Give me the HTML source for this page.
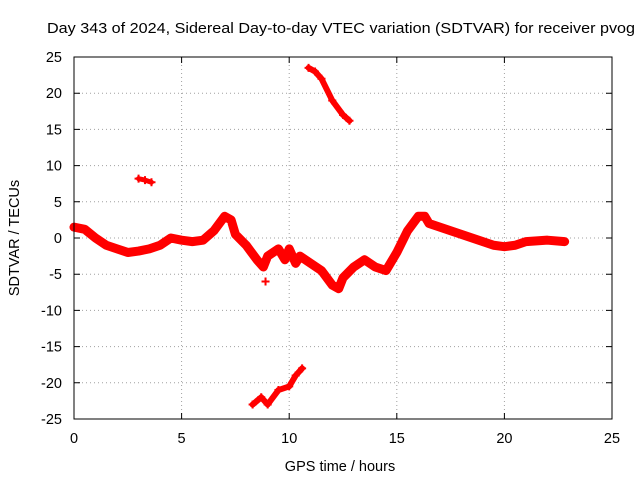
<!DOCTYPE html>
<html><head><meta charset="utf-8"><style>
body{margin:0;background:#fff}
svg{display:block;font-family:"Liberation Sans",sans-serif}
</style></head><body>
<svg id="chart" width="640" height="480" viewBox="0 0 640 480">
<text x="47" y="33" font-size="14.5" textLength="588" lengthAdjust="spacingAndGlyphs">Day 343 of 2024, Sidereal Day-to-day VTEC variation (SDTVAR) for receiver pvog</text>
<g id="grid"></g>
<g id="marks"></g>
<rect x="74" y="57" width="538" height="362" fill="none" stroke="#000" stroke-width="1"/>
<g id="axes"></g>
<text x="340" y="471" font-size="14.5" text-anchor="middle">GPS time / hours</text>
<text transform="translate(19,238) rotate(-90)" font-size="14.5" text-anchor="middle">SDTVAR / TECUs</text>
</svg>
<script>
const xTicks=[0,5,10,15,20,25];
const yTicks=[25,20,15,10,5,0,-5,-10,-15,-20,-25];
const mainT=[0,0.5,1,1.5,2,2.5,3,3.5,4,4.5,5,5.5,6,6.5,7,7.3,7.5,8,8.5,8.8,9,9.5,9.8,10,10.3,10.5,11,11.5,12,12.3,12.5,13,13.5,14,14.5,15,15.5,16,16.3,16.5,17,18,19,19.5,20,20.5,21,22,22.8];
const mainV=[1.5,1.2,0,-1,-1.5,-2,-1.8,-1.5,-1,0,-0.3,-0.5,-0.3,1,3,2.5,0.5,-1,-3,-4,-2.5,-1.5,-3,-1.5,-3.5,-2.5,-3.5,-4.5,-6.5,-7,-5.5,-4,-3,-4,-4.5,-2,1,3,3,2,1.5,0.5,-0.5,-1,-1.2,-1,-0.5,-0.3,-0.5];
const seg2T=[3.0,3.3,3.6];
const seg2V=[8.2,8.0,7.7];
const seg3T=[10.9,11.2,11.5,12,12.5,12.8];
const seg3V=[23.5,23,22,19,17,16.2];
const seg4T=[8.3,8.7,9,9.5,10,10.3,10.6];
const seg4V=[-23,-22,-23,-21,-20.5,-19,-18];
const outT=[8.9];
const outV=[-6];
const X0=74,X1=612,Y0=419,Y1=57;
const sx=v=>X0+(v-0)/(25-0)*(X1-X0);
const sy=v=>Y0-(v+25)/50*(Y0-Y1);
const NS='http://www.w3.org/2000/svg';
const grid=document.getElementById('grid'),axes=document.getElementById('axes'),marks=document.getElementById('marks');
function mk(tag,attrs,parent){const e=document.createElementNS(NS,tag);for(const k in attrs)e.setAttribute(k,attrs[k]);parent.appendChild(e);return e;}
xTicks.forEach(t=>{
  const x=sx(t);
  const g=mk('line',{x1:x,x2:x,y1:Y1,y2:Y0,stroke:'#a0a0a0','stroke-dasharray':'1,3'},grid);
  
  
  const tk=mk('path',{d:`M${x},${Y0}v-6M${x},${Y1}v6`,stroke:'#000'},axes);
  
  
  const l=mk('text',{x:x,y:443,'font-size':'14.5','text-anchor':'middle'},axes);
  l.textContent=t;
  
  
});
yTicks.forEach(t=>{
  const y=sy(t);
  const g=mk('line',{x1:X0,x2:X1,y1:y,y2:y,stroke:'#a0a0a0','stroke-dasharray':'1,3'},grid);
  
  
  const tk=mk('path',{d:`M${X0},${y}h6M${X1},${y}h-6`,stroke:'#000'},axes);
  
  
  const l=mk('text',{x:62,y:y+5,'font-size':'14.5','text-anchor':'end'},axes);
  l.textContent=t;
  
  
});
function series(T,V,w,name){
  const pts=T.map((t,i)=>sx(t)+','+sy(V[i])).join(' ');
  const p=mk('polyline',{points:pts,fill:'none',stroke:'#f00','stroke-width':w,'stroke-linejoin':'round','stroke-linecap':'round'},marks);
  
  
  T.forEach((t,i)=>{
    const m=mk('path',{d:`M${sx(t)-4},${sy(V[i])}h8M${sx(t)},${sy(V[i])-4}v8`,stroke:'#f00','stroke-width':2},marks);
    
    
  });
}
series(mainT,mainV,9,'main-track');
series(seg2T,seg2V,5,'track-near-8');
series(seg3T,seg3V,6,'track-near-20');
series(seg4T,seg4V,6,'track-near-minus-20');
series(outT,outV,6,'outlier');
</script>
</body></html>
